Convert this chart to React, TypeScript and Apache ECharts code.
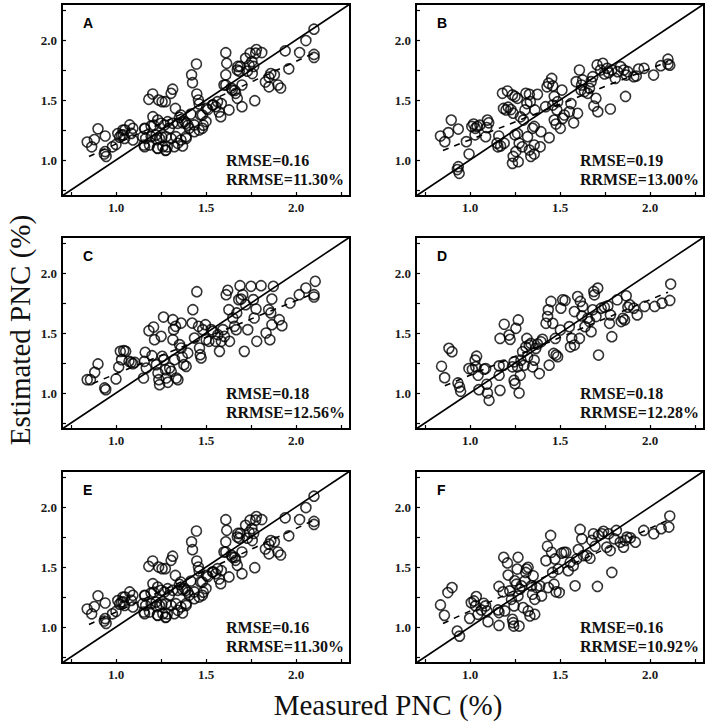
import React, { useEffect, useRef } from "react";
import * as echarts from "echarts";

const AXIS_MIN = 0.7;
const AXIS_MAX = 2.3;
const tickValues = [0.75, 1.0, 1.25, 1.5, 1.75, 2.0, 2.25];
const labelValues = [1.0, 1.5, 2.0];
const panelLabels = ["A", "B", "C", "D", "E", "F"];
const rmseValues = ["0.16", "0.19", "0.18", "0.18", "0.16", "0.16"];
const rrmseValues = ["11.30%", "13.00%", "12.56%", "12.28%", "11.30%", "10.92%"];
const xTitle = "Measured PNC (%)";
const yTitle = "Estimated PNC (%)";

const pointsA: number[][] = [
  [0.84, 1.15], [0.865, 1.11], [0.88, 1.17], [0.9, 1.26], [0.94, 1.2], [0.94, 1.07], [0.935, 1.05], [0.945, 1.03],
  [0.98, 1.11], [1.0, 1.13], [1.01, 1.22], [1.02, 1.19],
  [1.61, 1.894], [1.447, 1.8], [1.615, 1.806], [1.72, 1.847], [1.776, 1.89], [1.42, 1.71], [1.425, 1.644], [1.61, 1.71],
  [1.674, 1.75], [1.69, 1.78], [1.74, 1.79], [1.757, 1.72], [1.315, 1.59], [1.306, 1.556], [1.204, 1.55], [1.182, 1.506],
  [1.237, 1.5], [1.256, 1.486], [1.274, 1.486], [1.449, 1.55], [1.458, 1.5], [1.462, 1.467], [1.61, 1.625], [1.646, 1.583],
  [1.665, 1.556], [1.674, 1.514], [1.7, 1.625], [1.771, 1.494], [1.7, 1.444], [1.33, 1.43], [1.36, 1.375], [1.352, 1.356],
  [1.416, 1.383], [1.48, 1.375], [1.503, 1.43], [1.536, 1.458], [1.554, 1.444], [1.573, 1.4], [1.582, 1.361], [1.564, 1.486],
  [1.628, 1.417], [1.205, 1.361], [1.159, 1.264], [1.195, 1.283], [1.232, 1.333], [1.25, 1.306], [1.269, 1.292], [1.287, 1.319],
  [1.296, 1.264], [1.315, 1.306], [1.343, 1.306], [1.389, 1.306], [1.407, 1.264], [1.435, 1.292], [1.462, 1.25], [1.48, 1.264],
  [1.076, 1.292], [1.094, 1.264], [1.085, 1.222], [1.039, 1.25], [1.03, 1.208], [1.048, 1.18], [1.149, 1.194], [1.195, 1.194],
  [1.223, 1.208], [1.241, 1.18], [1.278, 1.194], [1.306, 1.18], [1.333, 1.194], [1.361, 1.167], [1.389, 1.194], [1.435, 1.236],
  [1.159, 1.111], [1.186, 1.125], [1.232, 1.097], [1.26, 1.111], [1.278, 1.083], [1.324, 1.111], [1.343, 1.139], [1.37, 1.117],
  [1.094, 1.167], [1.73, 1.74], [1.745, 1.89], [1.755, 1.82], [1.765, 1.78], [1.685, 1.74], [1.677, 1.78], [1.64, 1.6],
  [1.66, 1.58], [1.585, 1.47], [1.6, 1.625], [1.54, 1.46], [1.51, 1.42], [1.47, 1.375], [1.485, 1.29], [1.5, 1.32],
  [1.39, 1.18], [1.4, 1.29], [1.38, 1.32], [1.37, 1.31], [1.255, 1.19], [1.275, 1.08], [1.285, 1.11], [1.21, 1.29],
  [1.225, 1.17], [1.23, 1.1], [1.155, 1.125], [1.165, 1.18], [1.16, 1.26], [1.05, 1.25], [1.04, 1.21],
  [1.78, 1.92], [1.81, 1.895], [1.83, 1.65], [1.85, 1.69], [1.85, 1.61], [1.86, 1.72], [1.88, 1.71], [1.9, 1.625],
  [1.915, 1.6], [1.94, 1.91], [1.96, 1.76], [2.02, 1.895], [2.055, 1.995], [2.1, 2.09], [2.1, 1.88], [2.1, 1.855],
];

const pointsB: number[][] = [
  [0.836, 1.2], [0.86, 1.153], [0.88, 1.228], [0.896, 1.333], [0.935, 1.258], [0.935, 0.944], [0.94, 0.889], [0.93, 0.92],
  [0.98, 1.153], [0.995, 1.05], [1.01, 1.28], [1.02, 1.3], [1.03, 1.264], [1.04, 1.28], [1.028, 1.21], [1.055, 1.29],
  [1.087, 1.194], [1.097, 1.333], [1.104, 1.31], [1.093, 1.27], [1.15, 1.14], [1.155, 1.11], [1.16, 1.2], [1.17, 1.117],
  [1.19, 1.14], [1.18, 1.556], [1.208, 1.575], [1.186, 1.43], [1.2, 1.417], [1.212, 1.44], [1.227, 1.42], [1.236, 1.542],
  [1.24, 1.39], [1.25, 1.53], [1.264, 1.514], [1.236, 0.972], [1.24, 1.03], [1.255, 1.07], [1.268, 0.986], [1.25, 1.21],
  [1.264, 1.22], [1.273, 1.14], [1.29, 1.11], [1.28, 1.36], [1.297, 1.333], [1.305, 1.417], [1.316, 1.47], [1.31, 1.556],
  [1.33, 1.547], [1.335, 1.486], [1.32, 1.194], [1.33, 1.083], [1.338, 1.03], [1.357, 1.05], [1.348, 1.264], [1.357, 1.28],
  [1.36, 1.417], [1.357, 1.125], [1.375, 1.547], [1.394, 1.236], [1.39, 1.11], [1.42, 1.444], [1.428, 1.61], [1.437, 1.64],
  [1.44, 1.186], [1.454, 1.68], [1.46, 1.617], [1.46, 1.458], [1.468, 1.53], [1.468, 1.333], [1.478, 1.3], [1.483, 1.417],
  [1.487, 1.486], [1.502, 1.264], [1.515, 1.347], [1.524, 1.375], [1.511, 1.583], [1.552, 1.403], [1.561, 1.47], [1.576, 1.31],
  [1.59, 1.653], [1.598, 1.389], [1.608, 1.75], [1.617, 1.583], [1.62, 1.625], [1.626, 1.667], [1.636, 1.57], [1.654, 1.556],
  [1.664, 1.597], [1.673, 1.653], [1.682, 1.694], [1.688, 1.45], [1.7, 1.514], [1.706, 1.792], [1.71, 1.403], [1.725, 1.75],
  [1.738, 1.806], [1.747, 1.717], [1.762, 1.764], [1.77, 1.728], [1.78, 1.425], [1.788, 1.75], [1.807, 1.68], [1.82, 1.736],
  [1.836, 1.778], [1.855, 1.75], [1.864, 1.53], [1.868, 1.708], [1.877, 1.736], [1.91, 1.694], [1.924, 1.7], [1.937, 1.758],
  [1.967, 1.764], [2.02, 1.708], [2.06, 1.786], [2.1, 1.84], [2.11, 1.79], [2.1, 1.8],
];

const pointsC: number[][] = [
  [0.84, 1.111], [0.858, 1.111], [0.882, 1.172], [0.9, 1.242], [0.937, 1.042], [0.943, 1.028], [1.0, 1.117], [1.015, 1.217],
  [1.024, 1.347], [1.043, 1.353], [1.031, 1.278], [1.054, 1.347], [1.072, 1.264], [1.085, 1.256], [1.094, 1.244], [1.104, 1.256],
  [1.153, 1.125], [1.158, 1.264], [1.162, 1.339], [1.168, 1.208], [1.183, 1.519], [1.209, 1.55], [1.214, 1.444], [1.2, 1.311],
  [1.224, 1.236], [1.233, 1.167], [1.238, 1.111], [1.242, 1.069], [1.251, 1.472], [1.264, 1.633], [1.257, 1.306], [1.266, 1.278],
  [1.275, 1.194], [1.279, 1.125], [1.288, 1.089], [1.298, 1.208], [1.307, 1.181], [1.316, 1.611], [1.32, 1.528], [1.331, 1.556],
  [1.316, 1.444], [1.325, 1.278], [1.335, 1.125], [1.344, 1.111], [1.353, 1.403], [1.362, 1.583], [1.362, 1.375], [1.368, 1.3],
  [1.377, 1.236], [1.39, 1.222], [1.399, 1.333], [1.423, 1.583], [1.427, 1.694], [1.436, 1.458], [1.449, 1.844], [1.458, 1.556],
  [1.464, 1.375], [1.468, 1.319], [1.473, 1.292], [1.482, 1.528], [1.497, 1.569], [1.501, 1.444], [1.516, 1.431], [1.529, 1.528],
  [1.538, 1.514], [1.553, 1.431], [1.566, 1.486], [1.575, 1.347], [1.585, 1.431], [1.594, 1.528], [1.603, 1.472], [1.612, 1.819],
  [1.621, 1.856], [1.627, 1.694], [1.631, 1.431], [1.649, 1.625], [1.658, 1.556], [1.668, 1.528], [1.671, 1.667], [1.682, 1.778],
  [1.689, 1.894], [1.695, 1.783], [1.704, 1.819], [1.713, 1.347], [1.72, 1.736], [1.732, 1.528], [1.75, 1.889], [1.763, 1.778],
  [1.768, 1.625], [1.778, 1.7], [1.782, 1.431], [1.806, 1.894], [1.834, 1.5], [1.848, 1.694], [1.855, 1.444], [1.86, 1.667],
  [1.866, 1.783], [1.874, 1.889], [1.866, 1.569], [1.907, 1.611], [1.922, 1.561], [1.967, 1.75], [2.018, 1.819], [2.055, 1.875],
  [2.107, 1.931], [2.1, 1.819], [2.1, 1.8],
];

const pointsD: number[][] = [
  [0.842, 1.223], [0.859, 1.128], [0.883, 1.372], [0.9, 1.344], [0.933, 1.084], [0.942, 1.05], [0.948, 1.014], [0.994, 1.204],
  [1.013, 1.196], [1.028, 1.274], [1.037, 1.307], [1.032, 1.218], [1.045, 1.148], [1.05, 1.028], [1.078, 1.198], [1.087, 1.204],
  [1.093, 1.073], [1.097, 1.0], [1.106, 0.939], [1.162, 1.226], [1.162, 1.148], [1.167, 1.022], [1.167, 1.455], [1.19, 1.573],
  [1.186, 1.232], [1.217, 1.483], [1.223, 1.447], [1.236, 1.218], [1.245, 1.26], [1.245, 1.106], [1.25, 1.078], [1.255, 1.539],
  [1.268, 1.609], [1.264, 1.218], [1.273, 1.0], [1.279, 1.148], [1.283, 1.274], [1.292, 1.344], [1.301, 1.232], [1.31, 1.385],
  [1.316, 1.455], [1.32, 1.302], [1.329, 1.4], [1.338, 1.413], [1.348, 1.218], [1.357, 1.274], [1.366, 1.372], [1.375, 1.408],
  [1.385, 1.162], [1.394, 1.427], [1.403, 1.447], [1.422, 1.581], [1.431, 1.637], [1.435, 1.693], [1.44, 1.232], [1.45, 1.763],
  [1.46, 1.581], [1.465, 1.33], [1.474, 1.455], [1.478, 1.316], [1.487, 1.302], [1.502, 1.525], [1.505, 1.707], [1.515, 1.777],
  [1.528, 1.771], [1.552, 1.553], [1.558, 1.385], [1.565, 1.455], [1.58, 1.4], [1.58, 1.679], [1.598, 1.804], [1.608, 1.455],
  [1.613, 1.763], [1.621, 1.642], [1.626, 1.721], [1.639, 1.553], [1.654, 1.623], [1.664, 1.595], [1.673, 1.511], [1.682, 1.693],
  [1.688, 1.846], [1.691, 1.818], [1.7, 1.637], [1.71, 1.874], [1.714, 1.316], [1.729, 1.707], [1.747, 1.715], [1.766, 1.726],
  [1.775, 1.581], [1.78, 1.651], [1.788, 1.469], [1.818, 1.777], [1.84, 1.595], [1.85, 1.623], [1.859, 1.609], [1.868, 1.81],
  [1.877, 1.715], [1.887, 1.735], [1.91, 1.707], [1.929, 1.651], [1.97, 1.721], [2.026, 1.721], [2.067, 1.749], [2.11, 1.771],
  [2.115, 1.908],
];

const pointsE: number[][] = pointsA.map((p) => [p[0], p[1]]);

const pointsF: number[][] = [
  [0.836, 1.184], [0.858, 1.097], [0.877, 1.287], [0.9, 1.329], [0.929, 0.966], [0.942, 0.924], [0.998, 1.072], [1.007, 1.203],
  [1.022, 1.217], [1.035, 1.254], [1.031, 1.176], [1.044, 1.106], [1.063, 1.142], [1.076, 1.198], [1.087, 1.176], [1.094, 1.134],
  [1.1, 1.044], [1.156, 1.142], [1.161, 1.12], [1.161, 1.013], [1.161, 1.338], [1.184, 1.293], [1.187, 1.581], [1.208, 1.534],
  [1.212, 1.433], [1.193, 1.134], [1.221, 1.301], [1.23, 1.231], [1.236, 1.064], [1.24, 1.036], [1.243, 1.008], [1.245, 1.176],
  [1.249, 1.385], [1.258, 1.357], [1.262, 1.483], [1.267, 1.581], [1.267, 1.259], [1.273, 1.008], [1.277, 1.315], [1.286, 1.343],
  [1.295, 1.162], [1.305, 1.385], [1.31, 1.455], [1.314, 1.483], [1.323, 1.497], [1.323, 1.134], [1.333, 1.092], [1.342, 1.343],
  [1.347, 1.273], [1.351, 1.427], [1.36, 1.231], [1.36, 1.106], [1.37, 1.329], [1.388, 1.343], [1.398, 1.259], [1.422, 1.553],
  [1.43, 1.673], [1.435, 1.329], [1.448, 1.763], [1.453, 1.623], [1.459, 1.455], [1.467, 1.357], [1.472, 1.567], [1.478, 1.293],
  [1.49, 1.483], [1.496, 1.287], [1.509, 1.615], [1.522, 1.623], [1.533, 1.623], [1.546, 1.469], [1.556, 1.539], [1.574, 1.511],
  [1.584, 1.343], [1.593, 1.567], [1.602, 1.645], [1.612, 1.813], [1.621, 1.735], [1.63, 1.595], [1.649, 1.595], [1.667, 1.573],
  [1.677, 1.721], [1.686, 1.777], [1.695, 1.673], [1.708, 1.338], [1.714, 1.763], [1.733, 1.777], [1.742, 1.797], [1.76, 1.665],
  [1.77, 1.777], [1.779, 1.637], [1.788, 1.455], [1.801, 1.735], [1.813, 1.805], [1.835, 1.707], [1.853, 1.665], [1.863, 1.721],
  [1.872, 1.749], [1.891, 1.743], [1.919, 1.707], [1.965, 1.805], [2.021, 1.777], [2.062, 1.819], [2.105, 1.833], [2.11, 1.925],
];

const fitA = [[0.85, 1.03], [2.1, 1.89]];
const fitB = [[0.85, 1.08], [2.1, 1.82]];
const fitC = [[0.87, 1.08], [2.1, 1.83]];
const fitD = [[0.86, 1.06], [2.1, 1.84]];
const fitE = [[0.85, 1.02], [2.1, 1.89]];
const fitF = [[0.85, 1.03], [2.1, 1.89]];
const identity = [[AXIS_MIN, AXIS_MIN], [AXIS_MAX, AXIS_MAX]];

const panelPoints = [pointsA, pointsB, pointsC, pointsD, pointsE, pointsF];
const panelFits = [fitA, fitB, fitC, fitD, fitE, fitF];

const COL_LEFT = [62, 416];
const ROW_TOP = [4, 237, 471];
const GRID_W = 288;
const GRID_H = 192;

const SERIF = '"Liberation Serif", "Times New Roman", serif';
const SANS = '"Liberation Sans", Arial, sans-serif';

export default function App() {
  const ref = useRef<HTMLDivElement>(null);
  useEffect(() => {
    if (!ref.current) return;
    const chart = echarts.init(ref.current, undefined, { renderer: "svg" });
    const grids: any[] = [];
    const xAxes: any[] = [];
    const yAxes: any[] = [];
    const series: any[] = [];
    const graphics: any[] = [];
    for (let i = 0; i < 6; i++) {
      const left = COL_LEFT[i % 2];
      const top = ROW_TOP[Math.floor(i / 2)];
      grids.push({
        left, top, width: GRID_W, height: GRID_H,
        show: true, borderColor: "#000", borderWidth: 2, backgroundColor: "transparent",
        containLabel: false,
      });
      const axisCommon = {
        type: "value", min: AXIS_MIN, max: AXIS_MAX, gridIndex: i,
        axisLine: { show: false },
        splitLine: { show: false },
        axisTick: { show: true, inside: true, length: 4, customValues: tickValues, lineStyle: { color: "#000", width: 1.2 } },
        axisLabel: {
          show: true, customValues: labelValues, margin: 5,
          formatter: (v: number) => v.toFixed(1),
          fontFamily: SERIF, fontWeight: "bold", fontSize: 13, color: "#1a1a1a",
        },
      };
      xAxes.push({ ...axisCommon });
      yAxes.push({ ...axisCommon });
      series.push({
        type: "line", xAxisIndex: i, yAxisIndex: i, data: identity, symbol: "none",
        lineStyle: { color: "#000", width: 1.6 }, silent: true, z: 2,
      });
      series.push({
        type: "line", xAxisIndex: i, yAxisIndex: i, data: panelFits[i], symbol: "none",
        lineStyle: { color: "#000", width: 1.6, type: [6, 6] }, silent: true, z: 2,
      });
      series.push({
        type: "scatter", xAxisIndex: i, yAxisIndex: i, data: panelPoints[i], symbol: "circle", symbolSize: 10,
        itemStyle: { color: "transparent", borderColor: "#000", borderWidth: 1.6 }, z: 3,
      });
      graphics.push({
        type: "text", x: left + 21, y: top + 19,
        style: { text: panelLabels[i], font: `bold 14px ${SANS}`, fill: "#000", verticalAlign: "middle", align: "left" },
      });
      graphics.push({
        type: "text", x: left + 164, y: top + 147,
        style: {
          text: `RMSE=${rmseValues[i]}\nRRMSE=${rrmseValues[i]}`,
          font: `bold 16px ${SERIF}`, lineHeight: 19, fill: "#111", verticalAlign: "top", align: "left",
        },
      });
    }
    graphics.push({
      type: "text", x: 388, y: 705,
      style: { text: xTitle, font: `29px ${SERIF}`, fill: "#111", align: "center", verticalAlign: "middle" },
    });
    graphics.push({
      type: "text", x: 20, y: 330, rotation: Math.PI / 2,
      style: { text: yTitle, font: `29px ${SERIF}`, fill: "#111", align: "center", verticalAlign: "middle" },
    });
    chart.setOption({
      animation: false,
      backgroundColor: "#fff",
      grid: grids,
      xAxis: xAxes,
      yAxis: yAxes,
      series,
      graphic: graphics,
    });
    return () => chart.dispose();
  }, []);
  return <div ref={ref} style={{ position: "absolute", left: 0, top: 0, width: 714, height: 728 }} />;
}
